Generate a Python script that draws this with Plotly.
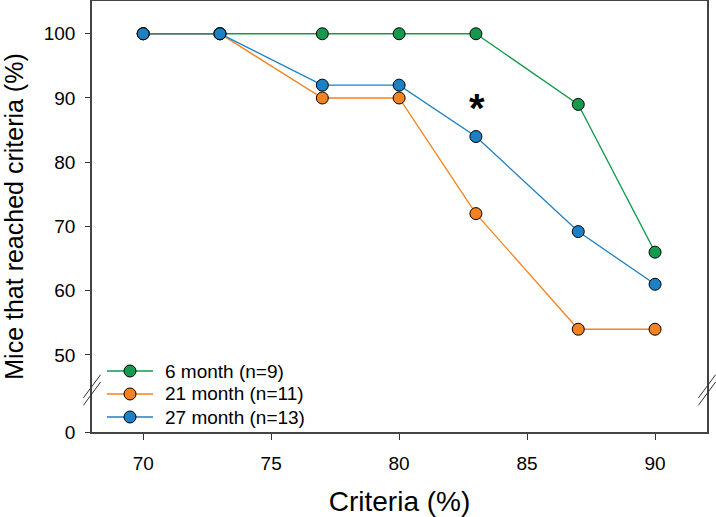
import plotly.graph_objects as go

criteria = [70, 73, 77, 80, 83, 87, 90]
m6 = [100, 100, 100, 100, 100, 89, 66]
m21 = [100, 100, 90, 90, 72, 54, 54]
m27 = [100, 100, 92, 92, 84, 69.2, 61]
names = ["6 month (n=9)", "21 month (n=11)", "27 month (n=13)"]
colors = ["#14994f", "#f58220", "#1b80c4"]

# broken axis: value 0 drawn at axis position BREAK_ZERO
BREAK_ZERO = 38
ytickvals = [BREAK_ZERO, 50, 60, 70, 80, 90, 100]
yticktext = ["0", "50", "60", "70", "80", "90", "100"]
xtickvals = [70, 75, 80, 85, 90]

fig = go.Figure()
for name, vals, col in zip(names, [m6, m21, m27], colors):
    fig.add_trace(go.Scatter(
        x=criteria, y=vals, name=name, mode="lines+markers",
        line=dict(color=col, width=1.3),
        marker=dict(color=col, size=12, line=dict(color="black", width=1)),
        showlegend=False,
    ))

fig.add_annotation(x=83.05, y=88.4, text="<b>*</b>", showarrow=False,
                   font=dict(size=40, color="black"))

# custom legend (paper coordinates)
leg_rows = [0.1415, 0.0882, 0.0348]
for name, col, yr in zip(names, colors, leg_rows):
    fig.add_shape(type="line", xref="paper", yref="paper",
                  x0=0.0244, x1=0.0992, y0=yr, y1=yr,
                  line=dict(color=col, width=1.3))
    fig.add_shape(type="circle", xref="paper", yref="paper",
                  xsizemode="pixel", ysizemode="pixel",
                  xanchor=0.0618, yanchor=yr, x0=-6, x1=6, y0=-6, y1=6,
                  fillcolor=col, line=dict(color="black", width=1))
    fig.add_annotation(xref="paper", yref="paper", x=0.1154, y=yr,
                       xanchor="left", yanchor="middle", text=name,
                       showarrow=False, font=dict(size=19, color="black"))

# axis break marks
for xp in [0.0, 1.0]:
    for dy in [0, 0.017]:
        fig.add_shape(type="line", xref="paper", yref="paper",
                      x0=xp - 0.014, x1=xp + 0.014,
                      y0=0.089 + dy - 0.027, y1=0.089 + dy + 0.027,
                      line=dict(color="#333333", width=1))

fig.update_layout(
    width=716, height=517,
    margin=dict(l=92, r=9, t=1, b=85, autoexpand=False),
    paper_bgcolor="white", plot_bgcolor="white",
    font=dict(family="Liberation Sans, Arial", size=19, color="black"),
    showlegend=False,
    xaxis=dict(range=[68, 92.03], tickvals=xtickvals, ticks="outside",
               ticklen=6, tickcolor="#333", showgrid=False, zeroline=False,
               showline=True, linecolor="#444", linewidth=1.5, mirror=True,
               automargin=False, ticklabelstandoff=7,
               title=dict(text="Criteria (%)", font=dict(size=28), standoff=20)),
    yaxis=dict(range=[BREAK_ZERO, 105.1], tickvals=ytickvals, ticktext=yticktext,
               ticks="outside", ticklen=5, tickcolor="#333", showgrid=False,
               zeroline=False, showline=True, linecolor="#444", linewidth=1.5,
               mirror=True, automargin=False, ticklabelstandoff=6,
               title=dict(text="Mice that reached criteria (%)", font=dict(size=25),
                          standoff=13)),
)

fig.write_html("out.html", config={"displayModeBar": False},
               post_script="document.body.style.margin='0';document.body.style.overflow='hidden';")
